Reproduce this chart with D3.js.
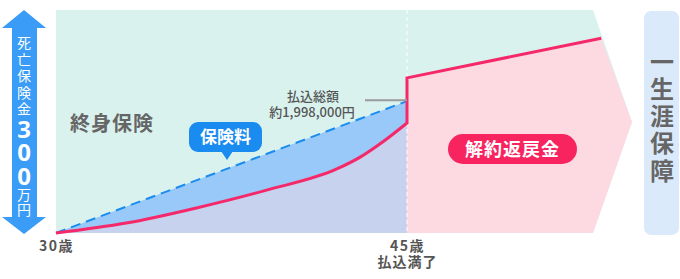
<!DOCTYPE html>
<html>
<head>
<meta charset="utf-8">
<script src="https://cdn.jsdelivr.net/npm/d3@7"></script>
<style>
  body { margin: 0; background: #fff; }
  svg text { font-family: "Noto Sans CJK JP", "Noto Sans", sans-serif; }
</style>
</head>
<body>
<div id="chart"></div>
<script>
// data
var ages = [30, 33, 36, 39, 42, 43, 44, 45];
var surrender = [0, 150000, 380000, 650000, 970000, 1150000, 1390000, 1667000];
var premiumAges = [30, 45];
var premiumPaid = [0, 1998000];
var afterAges = [45, 53.3];
var afterValues = [2350000, 2950000];
var tickAges = [30, 45];
var tickLabels = ["30歳", "45歳"];
var tickSub = ["", "払込満了"];
var deathLabel = ["死", "亡", "保", "険", "金"];
var deathAmount = ["3", "0", "0"];
var deathUnit = ["万", "円"];
var lifeLabel = ["一", "生", "涯", "保", "障"];

var svgWidth = 680;
var svgHeight = 279;

var plot = { left: 56, right: 593, tip: 632, top: 10, bottom: 233 };

var svg = d3.select("#chart")
    .append("svg")
    .attr("width", svgWidth)
    .attr("height", svgHeight);

var x = d3.scaleLinear().domain([30, 45]).range([plot.left, 407]);
var y = d3.scaleLinear().domain([0, 3000000]).range([plot.bottom, 35]);

var tipY = 122;

// teal background (arrow shaped on the right)
svg.append("polygon")
    .attr("points", [[plot.left, plot.top], [plot.right, plot.top], [plot.tip, tipY],
        [plot.right, plot.bottom], [plot.left, plot.bottom]].join(" "))
    .attr("fill", "#d9f2ee");

var curve = ages.map((a, i) => [x(a), y(surrender[i])]);
var paid = premiumAges.map((a, i) => [x(a), y(premiumPaid[i])]);

// area between premium line and surrender curve
var lineGen = d3.line().curve(d3.curveMonotoneX);
svg.append("path")
    .attr("d", "M" + paid.map(p => p.join(",")).join("L") + "L" +
        curve.slice().reverse().map(p => p.join(",")).join("L") + "Z")
    .attr("fill", "#99c9f8");

// area under surrender curve
svg.append("path")
    .attr("d", d3.area().curve(d3.curveMonotoneX)
        .x(d => d[0]).y0(plot.bottom).y1(d => d[1])(curve))
    .attr("fill", "#c7d2ee");

// pink area after payment
var after = afterAges.map((a, i) => [x(a), y(afterValues[i])]);
svg.append("polygon")
    .attr("points", [after[0], after[1], [plot.tip, tipY], [plot.right, plot.bottom],
        [x(45), plot.bottom]].join(" "))
    .attr("fill", "#fdd9e2");

// white dashed divider at 45
svg.append("line")
    .attr("x1", x(45)).attr("x2", x(45))
    .attr("y1", plot.top).attr("y2", plot.bottom)
    .attr("stroke", "#fff")
    .attr("stroke-width", 1)
    .attr("stroke-dasharray", "4,3");

// premium dashed line
svg.append("path")
    .attr("d", d3.line()(paid))
    .attr("fill", "none")
    .attr("stroke", "#1a8cf0")
    .attr("stroke-width", 2)
    .attr("stroke-dasharray", "10,6");

// surrender line
svg.append("path")
    .attr("d", lineGen(curve) + "L" + after.map(p => p.join(",")).join("L"))
    .attr("fill", "none")
    .attr("stroke", "#f5286a")
    .attr("stroke-width", 3)
    .attr("stroke-linejoin", "miter");

// gray leader
svg.append("line")
    .attr("x1", 365).attr("x2", x(45))
    .attr("y1", y(premiumPaid[1]) - 1).attr("y2", y(premiumPaid[1]) - 1)
    .attr("stroke", "#9a9a9a")
    .attr("stroke-width", 2);

svg.append("text")
    .attr("x", 313).attr("y", 101)
    .attr("text-anchor", "middle")
    .attr("fill", "#555")
    .style("font-size", "13px")
    .style("font-weight", 500)
    .text("払込総額");
svg.append("text")
    .attr("x", 312).attr("y", 117)
    .attr("text-anchor", "middle")
    .attr("fill", "#555")
    .style("font-size", "13px")
    .style("font-weight", 500)
    .text("約1,998,000円");

// labels
svg.append("text")
    .attr("x", 70).attr("y", 131)
    .attr("fill", "#666")
    .style("font-size", "20px")
    .style("font-weight", 700)
    .style("letter-spacing", "1px")
    .text("終身保険");

// callout 保険料
var callout = svg.append("g");
callout.append("rect")
    .attr("x", 189).attr("y", 122)
    .attr("width", 73).attr("height", 30)
    .attr("rx", 9)
    .attr("fill", "#1a8cf0");
callout.append("polygon")
    .attr("points", "221,151 233,151 227,160")
    .attr("fill", "#1a8cf0");
callout.append("text")
    .attr("x", 225.5).attr("y", 143)
    .attr("text-anchor", "middle")
    .attr("fill", "#fff")
    .style("font-size", "17px")
    .style("font-weight", 700)
    .text("保険料");

// pill 解約返戻金
svg.append("rect")
    .attr("x", 448).attr("y", 134)
    .attr("width", 129).attr("height", 30)
    .attr("rx", 15)
    .attr("fill", "#f7245f");
svg.append("text")
    .attr("x", 512.5).attr("y", 155.5)
    .attr("text-anchor", "middle")
    .attr("fill", "#fff")
    .style("font-size", "18px")
    .style("font-weight", 700)
    .style("letter-spacing", "1px")
    .text("解約返戻金");

// x axis
var xAxis = svg.append("g")
    .attr("transform", `translate(0, ${plot.bottom})`)
    .call(d3.axisBottom(x).tickValues(tickAges).tickSize(0)
        .tickFormat((d, i) => tickLabels[i]));
xAxis.select(".domain").remove();
xAxis.selectAll(".tick text")
    .attr("y", 8)
    .attr("dy", "0.71em")
    .attr("fill", "#555")
    .style("font-family", "'Noto Sans CJK JP', sans-serif")
    .style("font-size", "14px")
    .style("font-weight", 700)
    .style("letter-spacing", "1.5px");
xAxis.selectAll(".tick").each(function(d, i) {
  if (tickSub[i]) {
    d3.select(this).append("text")
      .attr("y", 24)
      .attr("dy", "0.71em")
      .attr("fill", "#555")
      .attr("text-anchor", "middle")
      .style("font-family", "'Noto Sans CJK JP', sans-serif")
      .style("font-size", "14px")
      .style("font-weight", 700)
      .style("letter-spacing", "1px")
      .text(tickSub[i]);
  }
});

// left double arrow
var ax = 24;
svg.append("polygon")
    .attr("points", [[ax, 10], [46, 28], [37, 28], [37, 217], [46, 217], [ax, 234],
        [2, 217], [12, 217], [12, 28], [2, 28]].join(" "))
    .attr("fill", "#3a9cf6");

var arrowText = svg.append("g").attr("fill", "#fff").attr("text-anchor", "middle");
deathLabel.forEach(function(c, i) {
  arrowText.append("text")
    .attr("x", ax).attr("y", 42 + i * 16.5)
    .attr("dominant-baseline", "central")
    .style("font-size", "14px")
    .text(c);
});
deathAmount.forEach(function(c, i) {
  arrowText.append("text")
    .attr("x", ax).attr("y", 128 + i * 23.5)
    .attr("dominant-baseline", "central")
    .style("font-family", "'Noto Sans', sans-serif")
    .style("font-size", "24px")
    .style("font-weight", 700)
    .text(c);
});
deathUnit.forEach(function(c, i) {
  arrowText.append("text")
    .attr("x", ax).attr("y", 194 + i * 15)
    .attr("dominant-baseline", "central")
    .style("font-size", "14px")
    .text(c);
});

// right box 一生涯保障
svg.append("rect")
    .attr("x", 644).attr("y", 11)
    .attr("width", 35).attr("height", 224)
    .attr("rx", 7)
    .attr("fill", "#dbeafb");
lifeLabel.forEach(function(c, i) {
  svg.append("text")
    .attr("x", 662).attr("y", 60 + i * 27.3)
    .attr("text-anchor", "middle")
    .attr("dominant-baseline", "central")
    .attr("fill", "#666")
    .style("font-size", "24px")
    .style("font-weight", 700)
    .text(c);
});
</script>
</body>
</html>
